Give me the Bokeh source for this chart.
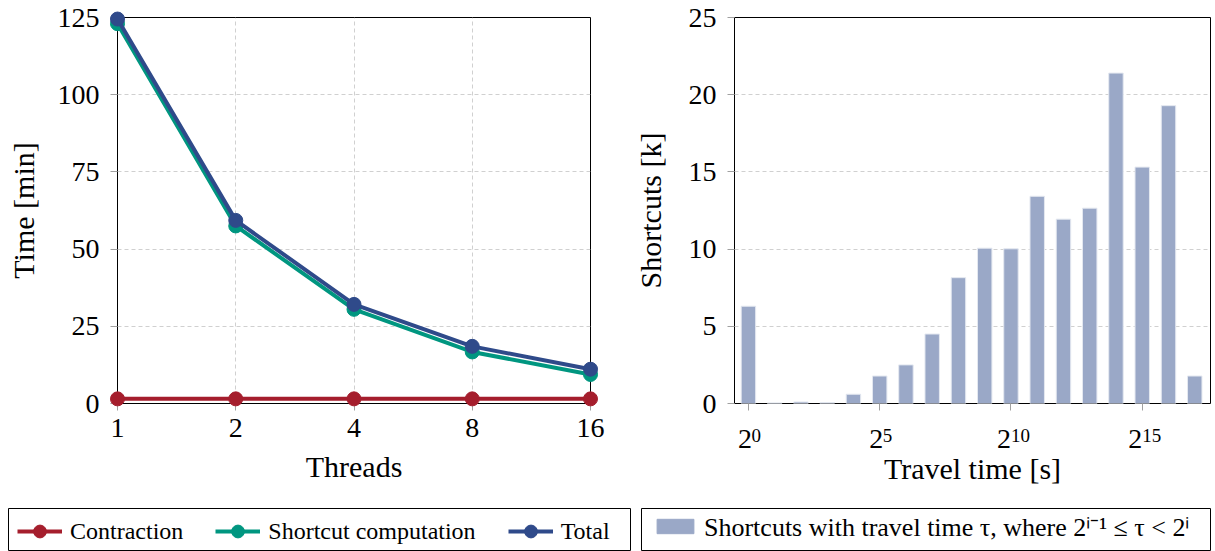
from bokeh.plotting import figure
from bokeh.models import Range1d, FixedTicker, Legend, LegendItem
from bokeh.core.properties import value
from bokeh.layouts import column, row
from bokeh.embed import file_html
from bokeh.resources import INLINE

# ---------------- data ----------------
threads = [1, 2, 4, 8, 16]
contraction = [1.5, 1.5, 1.5, 1.5, 1.5]
shortcut_computation = [123.0, 57.5, 30.5, 16.7, 9.4]
total = [124.5, 59.3, 32.1, 18.5, 11.1]

exponents = list(range(18))
shortcuts_k = [6.3, 0.04, 0.1, 0.06, 0.6, 1.78, 2.5, 4.5, 8.15, 10.06, 10.02,
               13.42, 11.94, 12.65, 21.4, 15.31, 19.29, 1.78]

x_ticks_left = [1, 2, 4, 8, 16]
x_ticks_right = [0, 5, 10, 15]
x_exp_labels = ["0", "5", "10", "15"]
y_ticks_left = [0, 25, 50, 75, 100, 125]
y_ticks_right = [0, 5, 10, 15, 20, 25]

RED = "#A51E2D"
GREEN = "#009680"
BLUE = "#2F4A8A"
BAR = "#9AA8C7"
FONT = "Liberation Serif"
NB = "\u00a0"


def style(p):
    p.outline_line_color = "black"
    p.outline_line_width = 1
    p.background_fill_color = "white"
    p.border_fill_color = "white"
    for ax in p.axis:
        ax.axis_line_color = None
        ax.major_tick_line_color = "#a0a0a0"
        ax.major_tick_out = 7
        ax.major_tick_in = 0
        ax.minor_tick_line_color = None
        ax.major_label_text_font = FONT
        ax.major_label_text_font_size = "28px"
        ax.major_label_text_color = "black"
        ax.axis_label_text_font = FONT
        ax.axis_label_text_font_size = "30px"
        ax.axis_label_text_font_style = "normal"
        ax.axis_label_text_color = "black"
    p.xaxis.major_label_standoff = 8
    p.yaxis.major_label_standoff = 11
    for g in p.grid:
        g.grid_line_color = "#d0d0d0"
        g.grid_line_dash = "4 3"
        g.grid_line_width = 1


# ---------------- left panel ----------------
p1 = figure(width=630, height=500, x_axis_type="log",
            x_range=Range1d(1, 16), y_range=Range1d(0, 125),
            output_backend="svg", toolbar_location=None,
            min_border_left=117, min_border_right=40,
            min_border_top=17, min_border_bottom=97)
style(p1)
p1.xaxis.ticker = FixedTicker(ticks=x_ticks_left)
p1.xaxis.major_label_overrides = {t: str(t) for t in x_ticks_left}
p1.xaxis.axis_label_standoff = 10
p1.yaxis.ticker = FixedTicker(ticks=y_ticks_left)
p1.xaxis.axis_label = "Threads"
p1.yaxis.axis_label = "Time [min]"
p1.yaxis.axis_label_standoff = 15

for ys, c in [(contraction, RED), (shortcut_computation, GREEN), (total, BLUE)]:
    p1.line(threads, ys, line_color=c, line_width=4, level="overlay")
    p1.scatter(threads, ys, size=14, fill_color=c, line_color=c, level="overlay")

# ---------------- right panel ----------------
p2 = figure(width=585, height=500,
            x_range=Range1d(-0.53, 17.6), y_range=Range1d(0, 25),
            output_backend="svg", toolbar_location=None,
            min_border_left=103, min_border_right=5,
            min_border_top=17, min_border_bottom=97)
style(p2)
p2.xgrid.visible = False
p2.xaxis.ticker = FixedTicker(ticks=x_ticks_right)
# base "2" from the axis, exponent drawn as smaller raised text
p2.xaxis.major_label_overrides = {t: "2" + NB * len(e) for t, e in zip(x_ticks_right, x_exp_labels)}
p2.xaxis.major_label_standoff = 12
p2.xaxis.axis_label_standoff = -5
p2.yaxis.ticker = FixedTicker(ticks=y_ticks_right)
p2.xaxis.axis_label = "Travel time [s]"
p2.yaxis.axis_label = "Shortcuts [k]"
p2.yaxis.axis_label_standoff = 19
p2.vbar(x=exponents, top=shortcuts_k, width=0.55, fill_color=BAR,
        line_color="#E4E8F0", line_width=1)
p2.text(x=x_ticks_right, y=[0] * len(x_ticks_right), text=x_exp_labels,
        x_offset=[3 if len(e) == 1 else 0 for e in x_exp_labels], y_offset=25,
        text_font=value(FONT), text_font_size="19px", text_color="black",
        text_align="left", text_baseline="top", level="overlay")


# ---------------- legends ----------------
def legend_fig(width, left, right):
    f = figure(width=width, height=51, x_range=Range1d(0, 1), y_range=Range1d(0, 1),
               output_backend="svg", toolbar_location=None,
               x_axis_location=None, y_axis_location=None,
               min_border_left=left, min_border_right=right,
               min_border_top=8, min_border_bottom=0)
    f.grid.visible = False
    f.outline_line_color = "black"
    f.outline_line_width = 1
    f.background_fill_color = "white"
    f.border_fill_color = "white"
    return f


l1 = legend_fig(638, 8, 8)
items = []
for name, ys, c in [("Contraction", contraction, RED),
                    ("Shortcut computation", shortcut_computation, GREEN),
                    ("Total", total, BLUE)]:
    lr = l1.line(threads, ys, line_color=c, line_width=4, visible=False)
    sr = l1.scatter(threads, ys, size=14, fill_color=c, line_color=c, visible=False)
    items.append(LegendItem(label=name, renderers=[lr, sr]))
leg1 = Legend(items=items, orientation="horizontal", location=(9, 4),
              glyph_width=45, glyph_height=32, label_standoff=8, spacing=32,
              padding=0, margin=0, border_line_color=None, background_fill_alpha=0,
              label_text_font=FONT, label_text_font_size="24px",
              label_text_color="black", label_height=32)
l1.add_layout(leg1)

l2 = legend_fig(577, 3, 5)
br = l2.vbar(x=exponents, top=shortcuts_k, width=0.5, fill_color=BAR, line_color=BAR,
             visible=False)
leg2 = Legend(items=[LegendItem(label="Shortcuts with travel time \u03c4, where 2\u2071\u207b\u00b9 \u2264 \u03c4 < 2\u2071",
                                renderers=[br])],
              orientation="horizontal", location=(11, 7),
              glyph_width=46, glyph_height=18, label_standoff=6,
              padding=0, margin=0, border_line_color=None, background_fill_alpha=0,
              label_text_font=FONT, label_text_font_size="26px",
              label_text_color="black", label_height=26)
l2.add_layout(leg2)

layout = column(row(p1, p2), row(l1, l2))
open("out.html", "w").write(file_html(layout, INLINE))
